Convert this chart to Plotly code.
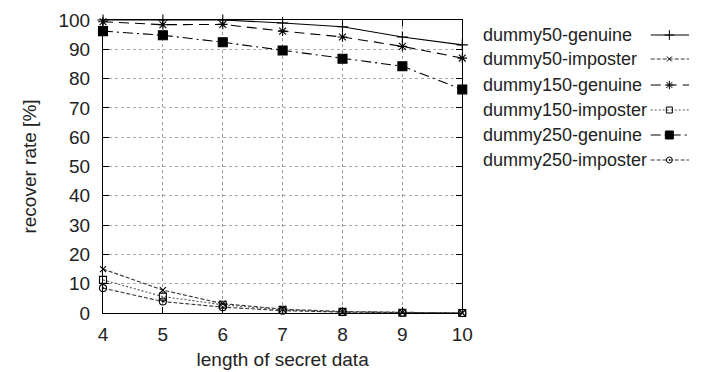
import plotly.graph_objects as go

lengths = [4, 5, 6, 7, 8, 9, 10]
series_names = ["dummy50-genuine", "dummy50-imposter", "dummy150-genuine",
                "dummy150-imposter", "dummy250-genuine", "dummy250-imposter"]
d50_genuine = [100, 100, 100, 99, 97.7, 94.2, 91.5]
d50_imposter = [15, 7.8, 3.2, 1.3, 0.5, 0.2, 0]
d150_genuine = [99.4, 98.4, 98.5, 96.2, 94.2, 91, 87]
d150_imposter = [11.3, 5.6, 2.8, 1.1, 0.4, 0.1, 0]
d250_genuine = [96.2, 94.8, 92.4, 89.6, 86.8, 84.2, 76.3]
d250_imposter = [8.5, 3.9, 2.0, 0.8, 0.3, 0.1, 0]
y_ticks = list(range(0, 101, 10))

values = [d50_genuine, d50_imposter, d150_genuine, d150_imposter, d250_genuine, d250_imposter]
styles = [
    dict(dash="solid", symbol="cross-thin-open", color="#000", size=8),
    dict(dash="4px,2px", symbol="x-thin-open", color="#333", size=6),
    dict(dash="10px,6px", symbol="asterisk-open", color="#000", size=8),
    dict(dash="2px,2px", symbol="square-open", color="#555", size=7),
    dict(dash="10px,4px,2px,4px", symbol="square", color="#000", size=9),
    dict(dash="4px,2px", symbol="circle-open-dot", color="#333", size=7),
]

FONT = "Liberation Sans"
fig = go.Figure()

for name, vals, st in zip(series_names, values, styles):
    fig.add_trace(go.Scatter(
        x=lengths, y=vals, mode="lines+markers", name=name, showlegend=False,
        line=dict(color=st["color"], width=1.1, dash=st["dash"]),
        marker=dict(symbol=st["symbol"], size=st["size"], color="#000",
                    line=dict(color="#000", width=1.1)),
        cliponaxis=False,
    ))

# manual legend (text left, sample on right) on a helper axis in pixel-like units
rows = [15, 39, 65, 90, 115, 140]
for name, st, r in zip(series_names, styles, rows):
    fig.add_trace(go.Scatter(
        x=[661, 700], y=[r, r], mode="lines", xaxis="x2", yaxis="y2", showlegend=False,
        line=dict(color=st["color"], width=1.0, dash=st["dash"]), hoverinfo="skip"))
    fig.add_trace(go.Scatter(
        x=[680], y=[r], mode="markers", xaxis="x2", yaxis="y2", showlegend=False,
        marker=dict(symbol=st["symbol"], size=st["size"] - 1, color="#000",
                    line=dict(color="#000", width=1.0)), hoverinfo="skip"))
    fig.add_annotation(x=488, y=r, xref="x2", yref="y2", text=name, showarrow=False,
                       xanchor="left", yanchor="middle", font=dict(family=FONT, size=18, color="#222"))

main_w = 366 / 597
fig.update_layout(
    width=702, height=372,
    margin=dict(l=103, r=2, t=20, b=59),
    paper_bgcolor="white", plot_bgcolor="white",
    font=dict(family=FONT, size=19, color="#222"),
    xaxis=dict(domain=[0, main_w], range=[4, 10], tickmode="array", tickvals=lengths,
               ticks="inside", ticklen=6, tickcolor="#000", mirror="allticks",
               showline=True, linecolor="#000", linewidth=1.2,
               showgrid=True, gridcolor="#999", griddash="dot", gridwidth=1,
               zeroline=False, ticklabelstandoff=4,
               title=dict(text="length of secret data", standoff=8, font=dict(size=19))),
    yaxis=dict(range=[0, 100], tickmode="array", tickvals=y_ticks,
               ticks="inside", ticklen=6, tickcolor="#000", mirror="allticks",
               showline=True, linecolor="#000", linewidth=1.2,
               showgrid=True, gridcolor="#aaa", griddash="dot", gridwidth=1,
               zeroline=False, ticklabelstandoff=8,
               title=dict(text="recover rate [%]", standoff=16, font=dict(size=19))),
    xaxis2=dict(domain=[(480 - 103) / 597, 1], range=[480, 700], visible=False, fixedrange=True),
    yaxis2=dict(domain=[0, 1], range=[293, 0], visible=False, fixedrange=True, anchor="x2"),
)

fig.write_html("out.html")
